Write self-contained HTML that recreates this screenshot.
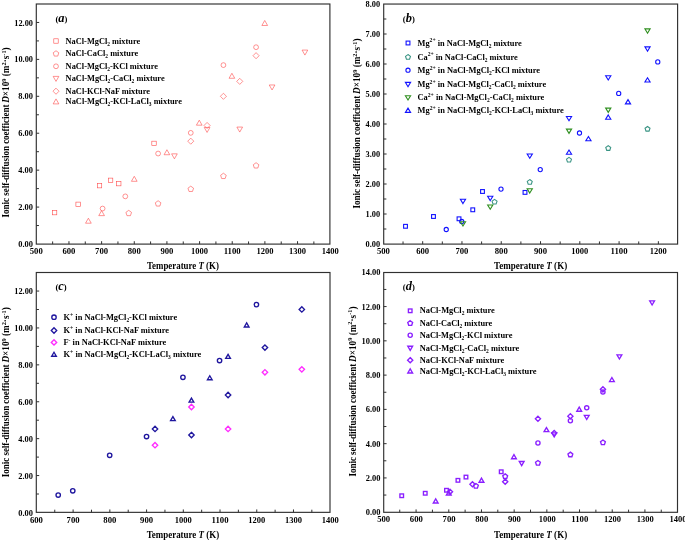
<!DOCTYPE html>
<html><head><meta charset="utf-8"><title>Ionic self-diffusion coefficients</title>
<style>
html,body{margin:0;padding:0;background:#fff;}
body{width:685px;height:540px;overflow:hidden;font-family:"Liberation Serif",serif;}
svg{display:block;will-change:transform;}
svg text{font-family:"Liberation Serif",serif;font-weight:bold;}
</style></head><body>
<svg width="685" height="540" viewBox="0 0 685 540">
<rect x="0" y="0" width="685" height="540" fill="#ffffff"/>
<rect x="36.3" y="4.0" width="293.60" height="240.10" fill="none" stroke="#303030" stroke-width="1.15"/>
<line x1="52.63" y1="244.1" x2="52.63" y2="241.45" stroke="#303030" stroke-width="1"/>
<line x1="68.96" y1="244.1" x2="68.96" y2="241.20" stroke="#303030" stroke-width="1"/>
<line x1="85.28" y1="244.1" x2="85.28" y2="241.45" stroke="#303030" stroke-width="1"/>
<line x1="101.61" y1="244.1" x2="101.61" y2="241.20" stroke="#303030" stroke-width="1"/>
<line x1="117.94" y1="244.1" x2="117.94" y2="241.45" stroke="#303030" stroke-width="1"/>
<line x1="134.27" y1="244.1" x2="134.27" y2="241.20" stroke="#303030" stroke-width="1"/>
<line x1="150.59" y1="244.1" x2="150.59" y2="241.45" stroke="#303030" stroke-width="1"/>
<line x1="166.92" y1="244.1" x2="166.92" y2="241.20" stroke="#303030" stroke-width="1"/>
<line x1="183.25" y1="244.1" x2="183.25" y2="241.45" stroke="#303030" stroke-width="1"/>
<line x1="199.58" y1="244.1" x2="199.58" y2="241.20" stroke="#303030" stroke-width="1"/>
<line x1="215.91" y1="244.1" x2="215.91" y2="241.45" stroke="#303030" stroke-width="1"/>
<line x1="232.23" y1="244.1" x2="232.23" y2="241.20" stroke="#303030" stroke-width="1"/>
<line x1="248.56" y1="244.1" x2="248.56" y2="241.45" stroke="#303030" stroke-width="1"/>
<line x1="264.89" y1="244.1" x2="264.89" y2="241.20" stroke="#303030" stroke-width="1"/>
<line x1="281.22" y1="244.1" x2="281.22" y2="241.45" stroke="#303030" stroke-width="1"/>
<line x1="297.54" y1="244.1" x2="297.54" y2="241.20" stroke="#303030" stroke-width="1"/>
<line x1="313.87" y1="244.1" x2="313.87" y2="241.45" stroke="#303030" stroke-width="1"/>
<line x1="36.3" y1="225.54" x2="38.95" y2="225.54" stroke="#303030" stroke-width="1"/>
<line x1="36.3" y1="207.08" x2="39.20" y2="207.08" stroke="#303030" stroke-width="1"/>
<line x1="36.3" y1="188.62" x2="38.95" y2="188.62" stroke="#303030" stroke-width="1"/>
<line x1="36.3" y1="170.15" x2="39.20" y2="170.15" stroke="#303030" stroke-width="1"/>
<line x1="36.3" y1="151.69" x2="38.95" y2="151.69" stroke="#303030" stroke-width="1"/>
<line x1="36.3" y1="133.23" x2="39.20" y2="133.23" stroke="#303030" stroke-width="1"/>
<line x1="36.3" y1="114.77" x2="38.95" y2="114.77" stroke="#303030" stroke-width="1"/>
<line x1="36.3" y1="96.31" x2="39.20" y2="96.31" stroke="#303030" stroke-width="1"/>
<line x1="36.3" y1="77.85" x2="38.95" y2="77.85" stroke="#303030" stroke-width="1"/>
<line x1="36.3" y1="59.38" x2="39.20" y2="59.38" stroke="#303030" stroke-width="1"/>
<line x1="36.3" y1="40.92" x2="38.95" y2="40.92" stroke="#303030" stroke-width="1"/>
<line x1="36.3" y1="22.46" x2="39.20" y2="22.46" stroke="#303030" stroke-width="1"/>
<rect x="53.80" y="38.80" width="4.40" height="4.40" fill="none" stroke="#ff4a4a" stroke-width="0.6"/>
<polygon points="56.00,50.74 58.81,52.78 57.73,56.08 54.27,56.08 53.19,52.78" fill="none" stroke="#ff4a4a" stroke-width="0.6"/>
<circle cx="56.00" cy="66.30" r="2.40" fill="none" stroke="#ff4a4a" stroke-width="0.6"/>
<polygon points="56.00,81.40 58.85,76.40 53.15,76.40" fill="none" stroke="#ff4a4a" stroke-width="0.6"/>
<polygon points="56.00,88.15 59.05,91.20 56.00,94.25 52.95,91.20" fill="none" stroke="#ff4a4a" stroke-width="0.6"/>
<polygon points="56.00,98.90 58.85,103.90 53.15,103.90" fill="none" stroke="#ff4a4a" stroke-width="0.6"/>
<rect x="52.39" y="210.42" width="4.40" height="4.40" fill="none" stroke="#ff4a4a" stroke-width="0.6"/>
<rect x="75.90" y="202.11" width="4.40" height="4.40" fill="none" stroke="#ff4a4a" stroke-width="0.6"/>
<rect x="97.32" y="183.46" width="4.40" height="4.40" fill="none" stroke="#ff4a4a" stroke-width="0.6"/>
<rect x="108.39" y="178.11" width="4.40" height="4.40" fill="none" stroke="#ff4a4a" stroke-width="0.6"/>
<rect x="116.56" y="181.43" width="4.40" height="4.40" fill="none" stroke="#ff4a4a" stroke-width="0.6"/>
<rect x="151.82" y="141.18" width="4.40" height="4.40" fill="none" stroke="#ff4a4a" stroke-width="0.6"/>
<polygon points="128.72,210.33 131.52,212.37 130.45,215.67 126.98,215.67 125.91,212.37" fill="none" stroke="#ff4a4a" stroke-width="0.6"/>
<polygon points="158.11,200.73 160.91,202.77 159.84,206.07 156.37,206.07 155.30,202.77" fill="none" stroke="#ff4a4a" stroke-width="0.6"/>
<polygon points="190.76,186.15 193.57,188.18 192.49,191.48 189.03,191.48 187.96,188.18" fill="none" stroke="#ff4a4a" stroke-width="0.6"/>
<polygon points="223.42,173.22 226.22,175.26 225.15,178.56 221.68,178.56 220.61,175.26" fill="none" stroke="#ff4a4a" stroke-width="0.6"/>
<polygon points="256.07,162.70 258.88,164.74 257.81,168.04 254.34,168.04 253.27,164.74" fill="none" stroke="#ff4a4a" stroke-width="0.6"/>
<circle cx="102.59" cy="208.55" r="2.40" fill="none" stroke="#ff4a4a" stroke-width="0.6"/>
<circle cx="125.29" cy="196.37" r="2.40" fill="none" stroke="#ff4a4a" stroke-width="0.6"/>
<circle cx="158.11" cy="153.54" r="2.40" fill="none" stroke="#ff4a4a" stroke-width="0.6"/>
<circle cx="190.76" cy="132.86" r="2.40" fill="none" stroke="#ff4a4a" stroke-width="0.6"/>
<circle cx="223.42" cy="65.11" r="2.40" fill="none" stroke="#ff4a4a" stroke-width="0.6"/>
<circle cx="256.07" cy="47.20" r="2.40" fill="none" stroke="#ff4a4a" stroke-width="0.6"/>
<polygon points="174.43,158.84 177.28,153.84 171.58,153.84" fill="none" stroke="#ff4a4a" stroke-width="0.6"/>
<polygon points="207.09,132.44 209.94,127.44 204.24,127.44" fill="none" stroke="#ff4a4a" stroke-width="0.6"/>
<polygon points="239.74,132.07 242.59,127.07 236.89,127.07" fill="none" stroke="#ff4a4a" stroke-width="0.6"/>
<polygon points="272.07,89.98 274.92,84.98 269.22,84.98" fill="none" stroke="#ff4a4a" stroke-width="0.6"/>
<polygon points="304.92,55.08 307.77,50.08 302.07,50.08" fill="none" stroke="#ff4a4a" stroke-width="0.6"/>
<polygon points="190.76,138.12 193.81,141.17 190.76,144.22 187.71,141.17" fill="none" stroke="#ff4a4a" stroke-width="0.6"/>
<polygon points="207.09,122.43 210.14,125.48 207.09,128.53 204.04,125.48" fill="none" stroke="#ff4a4a" stroke-width="0.6"/>
<polygon points="223.42,93.26 226.47,96.31 223.42,99.36 220.37,96.31" fill="none" stroke="#ff4a4a" stroke-width="0.6"/>
<polygon points="239.74,78.30 242.79,81.35 239.74,84.40 236.69,81.35" fill="none" stroke="#ff4a4a" stroke-width="0.6"/>
<polygon points="256.07,52.64 259.12,55.69 256.07,58.74 253.02,55.69" fill="none" stroke="#ff4a4a" stroke-width="0.6"/>
<polygon points="88.39,218.21 91.24,223.21 85.54,223.21" fill="none" stroke="#ff4a4a" stroke-width="0.6"/>
<polygon points="101.61,210.64 104.46,215.64 98.76,215.64" fill="none" stroke="#ff4a4a" stroke-width="0.6"/>
<polygon points="134.27,176.30 137.12,181.30 131.42,181.30" fill="none" stroke="#ff4a4a" stroke-width="0.6"/>
<polygon points="166.92,149.72 169.77,154.72 164.07,154.72" fill="none" stroke="#ff4a4a" stroke-width="0.6"/>
<polygon points="199.25,120.18 202.10,125.18 196.40,125.18" fill="none" stroke="#ff4a4a" stroke-width="0.6"/>
<polygon points="231.91,73.28 234.76,78.28 229.06,78.28" fill="none" stroke="#ff4a4a" stroke-width="0.6"/>
<polygon points="264.73,20.48 267.58,25.48 261.88,25.48" fill="none" stroke="#ff4a4a" stroke-width="0.6"/>
<rect x="383.7" y="4.05" width="293.90" height="240.05" fill="none" stroke="#303030" stroke-width="1.15"/>
<line x1="403.04" y1="244.1" x2="403.04" y2="241.45" stroke="#303030" stroke-width="1"/>
<line x1="422.68" y1="244.1" x2="422.68" y2="241.20" stroke="#303030" stroke-width="1"/>
<line x1="442.32" y1="244.1" x2="442.32" y2="241.45" stroke="#303030" stroke-width="1"/>
<line x1="461.96" y1="244.1" x2="461.96" y2="241.20" stroke="#303030" stroke-width="1"/>
<line x1="481.60" y1="244.1" x2="481.60" y2="241.45" stroke="#303030" stroke-width="1"/>
<line x1="501.24" y1="244.1" x2="501.24" y2="241.20" stroke="#303030" stroke-width="1"/>
<line x1="520.88" y1="244.1" x2="520.88" y2="241.45" stroke="#303030" stroke-width="1"/>
<line x1="540.52" y1="244.1" x2="540.52" y2="241.20" stroke="#303030" stroke-width="1"/>
<line x1="560.16" y1="244.1" x2="560.16" y2="241.45" stroke="#303030" stroke-width="1"/>
<line x1="579.80" y1="244.1" x2="579.80" y2="241.20" stroke="#303030" stroke-width="1"/>
<line x1="599.44" y1="244.1" x2="599.44" y2="241.45" stroke="#303030" stroke-width="1"/>
<line x1="619.08" y1="244.1" x2="619.08" y2="241.20" stroke="#303030" stroke-width="1"/>
<line x1="638.72" y1="244.1" x2="638.72" y2="241.45" stroke="#303030" stroke-width="1"/>
<line x1="658.36" y1="244.1" x2="658.36" y2="241.20" stroke="#303030" stroke-width="1"/>
<line x1="383.7" y1="229.00" x2="386.35" y2="229.00" stroke="#303030" stroke-width="1"/>
<line x1="383.7" y1="214.00" x2="386.60" y2="214.00" stroke="#303030" stroke-width="1"/>
<line x1="383.7" y1="199.00" x2="386.35" y2="199.00" stroke="#303030" stroke-width="1"/>
<line x1="383.7" y1="184.00" x2="386.60" y2="184.00" stroke="#303030" stroke-width="1"/>
<line x1="383.7" y1="169.00" x2="386.35" y2="169.00" stroke="#303030" stroke-width="1"/>
<line x1="383.7" y1="154.00" x2="386.60" y2="154.00" stroke="#303030" stroke-width="1"/>
<line x1="383.7" y1="139.00" x2="386.35" y2="139.00" stroke="#303030" stroke-width="1"/>
<line x1="383.7" y1="124.00" x2="386.60" y2="124.00" stroke="#303030" stroke-width="1"/>
<line x1="383.7" y1="109.00" x2="386.35" y2="109.00" stroke="#303030" stroke-width="1"/>
<line x1="383.7" y1="94.00" x2="386.60" y2="94.00" stroke="#303030" stroke-width="1"/>
<line x1="383.7" y1="79.00" x2="386.35" y2="79.00" stroke="#303030" stroke-width="1"/>
<line x1="383.7" y1="64.00" x2="386.60" y2="64.00" stroke="#303030" stroke-width="1"/>
<line x1="383.7" y1="49.00" x2="386.35" y2="49.00" stroke="#303030" stroke-width="1"/>
<line x1="383.7" y1="34.00" x2="386.60" y2="34.00" stroke="#303030" stroke-width="1"/>
<line x1="383.7" y1="19.00" x2="386.35" y2="19.00" stroke="#303030" stroke-width="1"/>
<rect x="406.10" y="41.10" width="3.80" height="3.80" fill="none" stroke="#1212ff" stroke-width="1.1"/>
<polygon points="408.00,54.56 410.47,56.36 409.53,59.26 406.47,59.26 405.53,56.36" fill="none" stroke="#3a9484" stroke-width="1.1"/>
<circle cx="408.00" cy="70.20" r="2.10" fill="none" stroke="#1212ff" stroke-width="1.1"/>
<polygon points="408.00,86.69 410.60,82.39 405.40,82.39" fill="none" stroke="#1212ff" stroke-width="1.1"/>
<polygon points="408.00,99.99 410.60,95.69 405.40,95.69" fill="none" stroke="#2f8f1f" stroke-width="1.1"/>
<polygon points="408.00,108.11 410.60,112.41 405.40,112.41" fill="none" stroke="#1212ff" stroke-width="1.1"/>
<rect x="403.61" y="224.40" width="3.80" height="3.80" fill="none" stroke="#1212ff" stroke-width="1.1"/>
<rect x="431.58" y="214.59" width="3.80" height="3.80" fill="none" stroke="#1212ff" stroke-width="1.1"/>
<rect x="457.11" y="216.90" width="3.80" height="3.80" fill="none" stroke="#1212ff" stroke-width="1.1"/>
<rect x="470.86" y="207.90" width="3.80" height="3.80" fill="none" stroke="#1212ff" stroke-width="1.1"/>
<rect x="480.60" y="189.60" width="3.80" height="3.80" fill="none" stroke="#1212ff" stroke-width="1.1"/>
<rect x="523.10" y="190.50" width="3.80" height="3.80" fill="none" stroke="#1212ff" stroke-width="1.1"/>
<polygon points="494.56,199.36 497.04,201.16 496.09,204.06 493.03,204.06 492.09,201.16" fill="none" stroke="#3a9484" stroke-width="1.1"/>
<polygon points="529.76,179.56 532.23,181.36 531.29,184.26 528.23,184.26 527.28,181.36" fill="none" stroke="#3a9484" stroke-width="1.1"/>
<polygon points="569.00,157.36 571.47,159.16 570.53,162.06 567.47,162.06 566.53,159.16" fill="none" stroke="#3a9484" stroke-width="1.1"/>
<polygon points="608.24,145.66 610.71,147.46 609.77,150.36 606.71,150.36 605.77,147.46" fill="none" stroke="#3a9484" stroke-width="1.1"/>
<polygon points="647.52,126.46 649.99,128.26 649.05,131.16 645.99,131.16 645.05,128.26" fill="none" stroke="#3a9484" stroke-width="1.1"/>
<circle cx="446.25" cy="229.51" r="2.10" fill="none" stroke="#1212ff" stroke-width="1.1"/>
<circle cx="461.76" cy="221.50" r="2.10" fill="none" stroke="#1212ff" stroke-width="1.1"/>
<circle cx="501.00" cy="189.10" r="2.10" fill="none" stroke="#1212ff" stroke-width="1.1"/>
<circle cx="540.25" cy="169.60" r="2.10" fill="none" stroke="#1212ff" stroke-width="1.1"/>
<circle cx="579.49" cy="133.00" r="2.10" fill="none" stroke="#1212ff" stroke-width="1.1"/>
<circle cx="618.69" cy="93.40" r="2.10" fill="none" stroke="#1212ff" stroke-width="1.1"/>
<circle cx="657.77" cy="61.90" r="2.10" fill="none" stroke="#1212ff" stroke-width="1.1"/>
<polygon points="462.98,203.59 465.58,199.29 460.38,199.29" fill="none" stroke="#1212ff" stroke-width="1.1"/>
<polygon points="490.24,200.59 492.84,196.29 487.64,196.29" fill="none" stroke="#1212ff" stroke-width="1.1"/>
<polygon points="529.76,158.29 532.36,153.99 527.16,153.99" fill="none" stroke="#1212ff" stroke-width="1.1"/>
<polygon points="569.00,120.79 571.60,116.49 566.40,116.49" fill="none" stroke="#1212ff" stroke-width="1.1"/>
<polygon points="608.24,79.99 610.84,75.69 605.64,75.69" fill="none" stroke="#1212ff" stroke-width="1.1"/>
<polygon points="647.52,51.19 650.12,46.89 644.92,46.89" fill="none" stroke="#1212ff" stroke-width="1.1"/>
<polygon points="462.98,226.00 465.58,221.70 460.38,221.70" fill="none" stroke="#2f8f1f" stroke-width="1.1"/>
<polygon points="490.24,209.29 492.84,204.99 487.64,204.99" fill="none" stroke="#2f8f1f" stroke-width="1.1"/>
<polygon points="529.76,193.09 532.36,188.79 527.16,188.79" fill="none" stroke="#2f8f1f" stroke-width="1.1"/>
<polygon points="569.00,133.39 571.60,129.09 566.40,129.09" fill="none" stroke="#2f8f1f" stroke-width="1.1"/>
<polygon points="608.24,112.39 610.84,108.09 605.64,108.09" fill="none" stroke="#2f8f1f" stroke-width="1.1"/>
<polygon points="647.52,33.19 650.12,28.89 644.92,28.89" fill="none" stroke="#2f8f1f" stroke-width="1.1"/>
<polygon points="569.00,150.01 571.60,154.31 566.40,154.31" fill="none" stroke="#1212ff" stroke-width="1.1"/>
<polygon points="588.44,136.51 591.04,140.81 585.84,140.81" fill="none" stroke="#1212ff" stroke-width="1.1"/>
<polygon points="608.24,114.91 610.84,119.21 605.64,119.21" fill="none" stroke="#1212ff" stroke-width="1.1"/>
<polygon points="628.00,99.61 630.60,103.91 625.40,103.91" fill="none" stroke="#1212ff" stroke-width="1.1"/>
<polygon points="647.52,77.71 650.12,82.01 644.92,82.01" fill="none" stroke="#1212ff" stroke-width="1.1"/>
<rect x="36.3" y="272.5" width="293.70" height="239.85" fill="none" stroke="#303030" stroke-width="1.15"/>
<line x1="54.76" y1="512.35" x2="54.76" y2="509.70" stroke="#303030" stroke-width="1"/>
<line x1="73.12" y1="512.35" x2="73.12" y2="509.45" stroke="#303030" stroke-width="1"/>
<line x1="91.49" y1="512.35" x2="91.49" y2="509.70" stroke="#303030" stroke-width="1"/>
<line x1="109.85" y1="512.35" x2="109.85" y2="509.45" stroke="#303030" stroke-width="1"/>
<line x1="128.21" y1="512.35" x2="128.21" y2="509.70" stroke="#303030" stroke-width="1"/>
<line x1="146.58" y1="512.35" x2="146.58" y2="509.45" stroke="#303030" stroke-width="1"/>
<line x1="164.94" y1="512.35" x2="164.94" y2="509.70" stroke="#303030" stroke-width="1"/>
<line x1="183.30" y1="512.35" x2="183.30" y2="509.45" stroke="#303030" stroke-width="1"/>
<line x1="201.66" y1="512.35" x2="201.66" y2="509.70" stroke="#303030" stroke-width="1"/>
<line x1="220.03" y1="512.35" x2="220.03" y2="509.45" stroke="#303030" stroke-width="1"/>
<line x1="238.39" y1="512.35" x2="238.39" y2="509.70" stroke="#303030" stroke-width="1"/>
<line x1="256.75" y1="512.35" x2="256.75" y2="509.45" stroke="#303030" stroke-width="1"/>
<line x1="275.11" y1="512.35" x2="275.11" y2="509.70" stroke="#303030" stroke-width="1"/>
<line x1="293.47" y1="512.35" x2="293.47" y2="509.45" stroke="#303030" stroke-width="1"/>
<line x1="311.84" y1="512.35" x2="311.84" y2="509.70" stroke="#303030" stroke-width="1"/>
<line x1="36.3" y1="494.00" x2="38.95" y2="494.00" stroke="#303030" stroke-width="1"/>
<line x1="36.3" y1="475.55" x2="39.20" y2="475.55" stroke="#303030" stroke-width="1"/>
<line x1="36.3" y1="457.10" x2="38.95" y2="457.10" stroke="#303030" stroke-width="1"/>
<line x1="36.3" y1="438.65" x2="39.20" y2="438.65" stroke="#303030" stroke-width="1"/>
<line x1="36.3" y1="420.20" x2="38.95" y2="420.20" stroke="#303030" stroke-width="1"/>
<line x1="36.3" y1="401.75" x2="39.20" y2="401.75" stroke="#303030" stroke-width="1"/>
<line x1="36.3" y1="383.30" x2="38.95" y2="383.30" stroke="#303030" stroke-width="1"/>
<line x1="36.3" y1="364.85" x2="39.20" y2="364.85" stroke="#303030" stroke-width="1"/>
<line x1="36.3" y1="346.40" x2="38.95" y2="346.40" stroke="#303030" stroke-width="1"/>
<line x1="36.3" y1="327.95" x2="39.20" y2="327.95" stroke="#303030" stroke-width="1"/>
<line x1="36.3" y1="309.50" x2="38.95" y2="309.50" stroke="#303030" stroke-width="1"/>
<line x1="36.3" y1="291.05" x2="39.20" y2="291.05" stroke="#303030" stroke-width="1"/>
<circle cx="54.00" cy="317.20" r="2.20" fill="none" stroke="#1f169e" stroke-width="1.35"/>
<polygon points="54.00,327.80 56.70,330.50 54.00,333.20 51.30,330.50" fill="none" stroke="#1f169e" stroke-width="1.35"/>
<polygon points="54.00,339.70 56.70,342.40 54.00,345.10 51.30,342.40" fill="none" stroke="#ff2cff" stroke-width="1.35"/>
<polygon points="54.00,352.28 56.35,356.28 51.65,356.28" fill="none" stroke="#1f169e" stroke-width="1.35"/>
<circle cx="58.21" cy="495.01" r="2.20" fill="none" stroke="#1f169e" stroke-width="1.35"/>
<circle cx="72.76" cy="490.77" r="2.20" fill="none" stroke="#1f169e" stroke-width="1.35"/>
<circle cx="109.67" cy="455.26" r="2.20" fill="none" stroke="#1f169e" stroke-width="1.35"/>
<circle cx="146.54" cy="436.53" r="2.20" fill="none" stroke="#1f169e" stroke-width="1.35"/>
<circle cx="182.93" cy="377.30" r="2.20" fill="none" stroke="#1f169e" stroke-width="1.35"/>
<circle cx="219.55" cy="360.51" r="2.20" fill="none" stroke="#1f169e" stroke-width="1.35"/>
<circle cx="256.42" cy="304.61" r="2.20" fill="none" stroke="#1f169e" stroke-width="1.35"/>
<polygon points="155.02,426.26 157.72,428.96 155.02,431.66 152.32,428.96" fill="none" stroke="#1f169e" stroke-width="1.35"/>
<polygon points="191.45,432.35 194.15,435.05 191.45,437.75 188.75,435.05" fill="none" stroke="#1f169e" stroke-width="1.35"/>
<polygon points="228.07,392.32 230.77,395.02 228.07,397.72 225.37,395.02" fill="none" stroke="#1f169e" stroke-width="1.35"/>
<polygon points="264.94,344.90 267.64,347.60 264.94,350.30 262.24,347.60" fill="none" stroke="#1f169e" stroke-width="1.35"/>
<polygon points="301.81,306.71 304.51,309.41 301.81,312.11 299.11,309.41" fill="none" stroke="#1f169e" stroke-width="1.35"/>
<polygon points="155.02,442.50 157.72,445.20 155.02,447.90 152.32,445.20" fill="none" stroke="#ff2cff" stroke-width="1.35"/>
<polygon points="191.45,404.31 194.15,407.01 191.45,409.71 188.75,407.01" fill="none" stroke="#ff2cff" stroke-width="1.35"/>
<polygon points="228.07,426.26 230.77,428.96 228.07,431.66 225.37,428.96" fill="none" stroke="#ff2cff" stroke-width="1.35"/>
<polygon points="264.94,369.62 267.64,372.32 264.94,375.02 262.24,372.32" fill="none" stroke="#ff2cff" stroke-width="1.35"/>
<polygon points="301.81,366.67 304.51,369.37 301.81,372.07 299.11,369.37" fill="none" stroke="#ff2cff" stroke-width="1.35"/>
<polygon points="172.91,416.68 175.26,420.68 170.56,420.68" fill="none" stroke="#1f169e" stroke-width="1.35"/>
<polygon points="191.45,398.05 193.80,402.05 189.10,402.05" fill="none" stroke="#1f169e" stroke-width="1.35"/>
<polygon points="209.78,375.72 212.13,379.72 207.43,379.72" fill="none" stroke="#1f169e" stroke-width="1.35"/>
<polygon points="228.07,354.32 230.42,358.32 225.72,358.32" fill="none" stroke="#1f169e" stroke-width="1.35"/>
<polygon points="246.65,322.95 249.00,326.95 244.30,326.95" fill="none" stroke="#1f169e" stroke-width="1.35"/>
<rect x="383.7" y="272.5" width="293.80" height="239.80" fill="none" stroke="#303030" stroke-width="1.15"/>
<line x1="399.74" y1="512.3" x2="399.74" y2="509.65" stroke="#303030" stroke-width="1"/>
<line x1="416.09" y1="512.3" x2="416.09" y2="509.40" stroke="#303030" stroke-width="1"/>
<line x1="432.43" y1="512.3" x2="432.43" y2="509.65" stroke="#303030" stroke-width="1"/>
<line x1="448.78" y1="512.3" x2="448.78" y2="509.40" stroke="#303030" stroke-width="1"/>
<line x1="465.12" y1="512.3" x2="465.12" y2="509.65" stroke="#303030" stroke-width="1"/>
<line x1="481.47" y1="512.3" x2="481.47" y2="509.40" stroke="#303030" stroke-width="1"/>
<line x1="497.81" y1="512.3" x2="497.81" y2="509.65" stroke="#303030" stroke-width="1"/>
<line x1="514.16" y1="512.3" x2="514.16" y2="509.40" stroke="#303030" stroke-width="1"/>
<line x1="530.50" y1="512.3" x2="530.50" y2="509.65" stroke="#303030" stroke-width="1"/>
<line x1="546.84" y1="512.3" x2="546.84" y2="509.40" stroke="#303030" stroke-width="1"/>
<line x1="563.19" y1="512.3" x2="563.19" y2="509.65" stroke="#303030" stroke-width="1"/>
<line x1="579.53" y1="512.3" x2="579.53" y2="509.40" stroke="#303030" stroke-width="1"/>
<line x1="595.88" y1="512.3" x2="595.88" y2="509.65" stroke="#303030" stroke-width="1"/>
<line x1="612.22" y1="512.3" x2="612.22" y2="509.40" stroke="#303030" stroke-width="1"/>
<line x1="628.57" y1="512.3" x2="628.57" y2="509.65" stroke="#303030" stroke-width="1"/>
<line x1="644.91" y1="512.3" x2="644.91" y2="509.40" stroke="#303030" stroke-width="1"/>
<line x1="661.26" y1="512.3" x2="661.26" y2="509.65" stroke="#303030" stroke-width="1"/>
<line x1="383.7" y1="495.06" x2="386.35" y2="495.06" stroke="#303030" stroke-width="1"/>
<line x1="383.7" y1="477.93" x2="386.60" y2="477.93" stroke="#303030" stroke-width="1"/>
<line x1="383.7" y1="460.79" x2="386.35" y2="460.79" stroke="#303030" stroke-width="1"/>
<line x1="383.7" y1="443.66" x2="386.60" y2="443.66" stroke="#303030" stroke-width="1"/>
<line x1="383.7" y1="426.52" x2="386.35" y2="426.52" stroke="#303030" stroke-width="1"/>
<line x1="383.7" y1="409.39" x2="386.60" y2="409.39" stroke="#303030" stroke-width="1"/>
<line x1="383.7" y1="392.25" x2="386.35" y2="392.25" stroke="#303030" stroke-width="1"/>
<line x1="383.7" y1="375.11" x2="386.60" y2="375.11" stroke="#303030" stroke-width="1"/>
<line x1="383.7" y1="357.98" x2="386.35" y2="357.98" stroke="#303030" stroke-width="1"/>
<line x1="383.7" y1="340.84" x2="386.60" y2="340.84" stroke="#303030" stroke-width="1"/>
<line x1="383.7" y1="323.71" x2="386.35" y2="323.71" stroke="#303030" stroke-width="1"/>
<line x1="383.7" y1="306.57" x2="386.60" y2="306.57" stroke="#303030" stroke-width="1"/>
<line x1="383.7" y1="289.44" x2="386.35" y2="289.44" stroke="#303030" stroke-width="1"/>
<rect x="408.40" y="309.00" width="3.60" height="3.60" fill="none" stroke="#8a1fff" stroke-width="1.35"/>
<polygon points="410.20,320.70 412.63,322.47 411.70,325.32 408.70,325.32 407.77,322.47" fill="none" stroke="#8a1fff" stroke-width="1.35"/>
<circle cx="410.20" cy="335.20" r="2.10" fill="none" stroke="#8a1fff" stroke-width="1.35"/>
<polygon points="410.20,350.38 412.60,346.28 407.80,346.28" fill="none" stroke="#8a1fff" stroke-width="1.35"/>
<polygon points="410.20,357.60 412.80,360.20 410.20,362.80 407.60,360.20" fill="none" stroke="#8a1fff" stroke-width="1.35"/>
<polygon points="410.20,368.92 412.60,373.02 407.80,373.02" fill="none" stroke="#8a1fff" stroke-width="1.35"/>
<rect x="399.91" y="493.95" width="3.60" height="3.60" fill="none" stroke="#8a1fff" stroke-width="1.35"/>
<rect x="423.44" y="491.47" width="3.60" height="3.60" fill="none" stroke="#8a1fff" stroke-width="1.35"/>
<rect x="444.69" y="488.47" width="3.60" height="3.60" fill="none" stroke="#8a1fff" stroke-width="1.35"/>
<rect x="456.13" y="478.53" width="3.60" height="3.60" fill="none" stroke="#8a1fff" stroke-width="1.35"/>
<rect x="464.17" y="475.27" width="3.60" height="3.60" fill="none" stroke="#8a1fff" stroke-width="1.35"/>
<rect x="499.41" y="469.96" width="3.60" height="3.60" fill="none" stroke="#8a1fff" stroke-width="1.35"/>
<polygon points="475.91,483.52 478.33,485.28 477.41,488.13 474.41,488.13 473.48,485.28" fill="none" stroke="#8a1fff" stroke-width="1.35"/>
<polygon points="505.20,473.92 507.62,475.68 506.70,478.53 503.70,478.53 502.77,475.68" fill="none" stroke="#8a1fff" stroke-width="1.35"/>
<polygon points="537.95,460.47 540.38,462.23 539.45,465.08 536.45,465.08 535.53,462.23" fill="none" stroke="#8a1fff" stroke-width="1.35"/>
<polygon points="570.38,452.16 572.81,453.92 571.88,456.77 568.88,456.77 567.96,453.92" fill="none" stroke="#8a1fff" stroke-width="1.35"/>
<polygon points="602.94,439.99 605.36,441.75 604.44,444.60 601.44,444.60 600.51,441.75" fill="none" stroke="#8a1fff" stroke-width="1.35"/>
<circle cx="537.95" cy="442.97" r="2.10" fill="none" stroke="#8a1fff" stroke-width="1.35"/>
<circle cx="570.38" cy="420.70" r="2.10" fill="none" stroke="#8a1fff" stroke-width="1.35"/>
<circle cx="586.72" cy="407.84" r="2.10" fill="none" stroke="#8a1fff" stroke-width="1.35"/>
<circle cx="602.94" cy="392.08" r="2.10" fill="none" stroke="#8a1fff" stroke-width="1.35"/>
<polygon points="521.67,465.57 524.07,461.47 519.27,461.47" fill="none" stroke="#8a1fff" stroke-width="1.35"/>
<polygon points="554.20,436.95 556.60,432.85 551.80,432.85" fill="none" stroke="#8a1fff" stroke-width="1.35"/>
<polygon points="586.72,419.47 589.12,415.37 584.32,415.37" fill="none" stroke="#8a1fff" stroke-width="1.35"/>
<polygon points="619.41,358.99 621.81,354.89 617.01,354.89" fill="none" stroke="#8a1fff" stroke-width="1.35"/>
<polygon points="652.10,305.01 654.50,300.91 649.70,300.91" fill="none" stroke="#8a1fff" stroke-width="1.35"/>
<polygon points="449.99,489.21 452.59,491.81 449.99,494.41 447.39,491.81" fill="none" stroke="#8a1fff" stroke-width="1.35"/>
<polygon points="472.48,481.67 475.08,484.27 472.48,486.87 469.88,484.27" fill="none" stroke="#8a1fff" stroke-width="1.35"/>
<polygon points="505.20,479.10 507.80,481.70 505.20,484.30 502.60,481.70" fill="none" stroke="#8a1fff" stroke-width="1.35"/>
<polygon points="537.95,416.21 540.55,418.81 537.95,421.41 535.35,418.81" fill="none" stroke="#8a1fff" stroke-width="1.35"/>
<polygon points="554.20,430.43 556.80,433.03 554.20,435.63 551.60,433.03" fill="none" stroke="#8a1fff" stroke-width="1.35"/>
<polygon points="570.38,413.64 572.98,416.24 570.38,418.84 567.78,416.24" fill="none" stroke="#8a1fff" stroke-width="1.35"/>
<polygon points="602.94,386.74 605.54,389.34 602.94,391.94 600.34,389.34" fill="none" stroke="#8a1fff" stroke-width="1.35"/>
<polygon points="435.70,498.86 438.10,502.96 433.30,502.96" fill="none" stroke="#8a1fff" stroke-width="1.35"/>
<polygon points="448.78,490.89 451.18,494.99 446.38,494.99" fill="none" stroke="#8a1fff" stroke-width="1.35"/>
<polygon points="481.47,478.12 483.87,482.22 479.07,482.22" fill="none" stroke="#8a1fff" stroke-width="1.35"/>
<polygon points="513.96,454.65 516.36,458.75 511.56,458.75" fill="none" stroke="#8a1fff" stroke-width="1.35"/>
<polygon points="546.45,427.57 548.85,431.67 544.05,431.67" fill="none" stroke="#8a1fff" stroke-width="1.35"/>
<polygon points="579.21,407.18 581.61,411.28 576.81,411.28" fill="none" stroke="#8a1fff" stroke-width="1.35"/>
<polygon points="611.90,377.53 614.30,381.63 609.50,381.63" fill="none" stroke="#8a1fff" stroke-width="1.35"/>
<text transform="translate(29.77,254.40) scale(0.9884,1)" font-size="8.8" fill="#000">500</text>
<text transform="translate(62.43,254.40) scale(0.9884,1)" font-size="8.8" fill="#000">600</text>
<text transform="translate(95.09,254.40) scale(0.9884,1)" font-size="8.8" fill="#000">700</text>
<text transform="translate(127.74,254.40) scale(0.9884,1)" font-size="8.8" fill="#000">800</text>
<text transform="translate(160.40,254.40) scale(0.9884,1)" font-size="8.8" fill="#000">900</text>
<text transform="translate(191.08,254.40) scale(0.9663,1)" font-size="8.8" fill="#000">1000</text>
<text transform="translate(223.73,254.40) scale(0.9936,1)" font-size="8.8" fill="#000">1100</text>
<text transform="translate(256.39,254.40) scale(0.9663,1)" font-size="8.8" fill="#000">1200</text>
<text transform="translate(289.04,254.40) scale(0.9663,1)" font-size="8.8" fill="#000">1300</text>
<text transform="translate(321.70,254.40) scale(0.9663,1)" font-size="8.8" fill="#000">1400</text>
<text transform="translate(18.30,247.10) scale(0.9542,1)" font-size="8.8" fill="#000">0.00</text>
<text transform="translate(18.30,210.18) scale(0.9542,1)" font-size="8.8" fill="#000">2.00</text>
<text transform="translate(18.30,173.25) scale(0.9542,1)" font-size="8.8" fill="#000">4.00</text>
<text transform="translate(18.30,136.33) scale(0.9542,1)" font-size="8.8" fill="#000">6.00</text>
<text transform="translate(18.30,99.41) scale(0.9542,1)" font-size="8.8" fill="#000">8.00</text>
<text transform="translate(14.30,62.48) scale(0.9446,1)" font-size="8.8" fill="#000">10.00</text>
<text transform="translate(14.30,25.56) scale(0.9446,1)" font-size="8.8" fill="#000">12.00</text>
<text transform="translate(147.00,268.90) scale(0.9548,1)" font-size="9.3" fill="#000">Temperature <tspan font-style="italic">T</tspan> (K)</text>
<text transform="translate(9.00,217.40) rotate(-90) scale(0.9340,1)" font-size="9.6" fill="#000">Ionic self-diffusion coefficient</text>
<text transform="translate(9.00,102.80) rotate(-90) scale(0.9580,1)" font-size="9.6" fill="#000"><tspan font-style="italic">D</tspan>×10<tspan font-size="6.6" dy="-3.5">9</tspan><tspan dy="3.5"> (m<tspan font-size="6.6" dy="-3.5">2</tspan><tspan dy="3.5">·s<tspan font-size="6.6" dy="-3.5">-1</tspan><tspan dy="3.5">)</tspan></tspan></tspan></text>
<text transform="translate(55.40,21.70) scale(1.0000,1)" font-size="8.6" fill="#000">(<tspan font-style="italic" font-size="12.4">a</tspan>)</text>
<text transform="translate(65.60,43.60) scale(0.9382,1)" font-size="8.9" fill="#000">NaCl-MgCl<tspan font-size="5.8" dy="2.0">2</tspan><tspan dy="-2.0"> mixture</tspan></text>
<text transform="translate(65.60,56.00) scale(0.9362,1)" font-size="8.9" fill="#000">NaCl-CaCl<tspan font-size="5.8" dy="2.0">2</tspan><tspan dy="-2.0"> mixture</tspan></text>
<text transform="translate(65.60,68.90) scale(0.9395,1)" font-size="8.9" fill="#000">NaCl-MgCl<tspan font-size="5.8" dy="2.0">2</tspan><tspan dy="-2.0">-KCl mixture</tspan></text>
<text transform="translate(65.60,81.10) scale(0.9410,1)" font-size="8.9" fill="#000">NaCl-MgCl<tspan font-size="5.8" dy="2.0">2</tspan><tspan dy="-2.0">-CaCl<tspan font-size="5.8" dy="2.0">2</tspan><tspan dy="-2.0"> mixture</tspan></tspan></text>
<text transform="translate(65.60,93.80) scale(0.9409,1)" font-size="8.9" fill="#000">NaCl-KCl-NaF mixture</text>
<text transform="translate(65.60,104.40) scale(0.9413,1)" font-size="8.9" fill="#000">NaCl-MgCl<tspan font-size="5.8" dy="2.0">2</tspan><tspan dy="-2.0">-KCl-LaCl<tspan font-size="5.8" dy="2.0">3</tspan><tspan dy="-2.0"> mixture</tspan></tspan></text>
<text transform="translate(376.88,254.40) scale(0.9884,1)" font-size="8.8" fill="#000">500</text>
<text transform="translate(416.15,254.40) scale(0.9884,1)" font-size="8.8" fill="#000">600</text>
<text transform="translate(455.44,254.40) scale(0.9884,1)" font-size="8.8" fill="#000">700</text>
<text transform="translate(494.72,254.40) scale(0.9884,1)" font-size="8.8" fill="#000">800</text>
<text transform="translate(534.00,254.40) scale(0.9884,1)" font-size="8.8" fill="#000">900</text>
<text transform="translate(571.30,254.40) scale(0.9663,1)" font-size="8.8" fill="#000">1000</text>
<text transform="translate(610.58,254.40) scale(0.9936,1)" font-size="8.8" fill="#000">1100</text>
<text transform="translate(649.86,254.40) scale(0.9663,1)" font-size="8.8" fill="#000">1200</text>
<text transform="translate(365.60,247.10) scale(0.9477,1)" font-size="8.8" fill="#000">0.00</text>
<text transform="translate(365.60,217.10) scale(0.9477,1)" font-size="8.8" fill="#000">1.00</text>
<text transform="translate(365.60,187.10) scale(0.9477,1)" font-size="8.8" fill="#000">2.00</text>
<text transform="translate(365.60,157.10) scale(0.9477,1)" font-size="8.8" fill="#000">3.00</text>
<text transform="translate(365.60,127.10) scale(0.9477,1)" font-size="8.8" fill="#000">4.00</text>
<text transform="translate(365.60,97.10) scale(0.9477,1)" font-size="8.8" fill="#000">5.00</text>
<text transform="translate(365.60,67.10) scale(0.9477,1)" font-size="8.8" fill="#000">6.00</text>
<text transform="translate(365.60,37.10) scale(0.9477,1)" font-size="8.8" fill="#000">7.00</text>
<text transform="translate(365.60,7.10) scale(0.9477,1)" font-size="8.8" fill="#000">8.00</text>
<text transform="translate(494.00,268.90) scale(0.9707,1)" font-size="9.3" fill="#000">Temperature <tspan font-style="italic">T</tspan> (K)</text>
<text transform="translate(360.10,208.50) rotate(-90) scale(0.9340,1)" font-size="9.6" fill="#000">Ionic self-diffusion coefficient</text>
<text transform="translate(360.10,93.90) rotate(-90) scale(0.9580,1)" font-size="9.6" fill="#000"><tspan font-style="italic">D</tspan>×10<tspan font-size="6.6" dy="-3.5">9</tspan><tspan dy="3.5"> (m<tspan font-size="6.6" dy="-3.5">2</tspan><tspan dy="3.5">·s<tspan font-size="6.6" dy="-3.5">-1</tspan><tspan dy="3.5">)</tspan></tspan></tspan></text>
<text transform="translate(402.80,21.60) scale(1.0000,1)" font-size="8.6" fill="#000">(<tspan font-style="italic" font-size="12.4">b</tspan>)</text>
<text transform="translate(417.50,45.60) scale(0.9412,1)" font-size="8.9" fill="#000">Mg<tspan font-size="6.0" dy="-3.3">2+</tspan><tspan dy="3.3"> in NaCl-MgCl<tspan font-size="5.8" dy="2.0">2</tspan><tspan dy="-2.0"> mixture</tspan></tspan></text>
<text transform="translate(417.50,59.50) scale(0.9384,1)" font-size="8.9" fill="#000">Ca<tspan font-size="6.0" dy="-3.3">2+</tspan><tspan dy="3.3"> in NaCl-CaCl<tspan font-size="5.8" dy="2.0">2</tspan><tspan dy="-2.0"> mixture</tspan></tspan></text>
<text transform="translate(417.50,72.80) scale(0.9479,1)" font-size="8.9" fill="#000">Mg<tspan font-size="6.0" dy="-3.3">2+</tspan><tspan dy="3.3"> in NaCl-MgCl<tspan font-size="5.8" dy="2.0">2</tspan><tspan dy="-2.0">-KCl mixture</tspan></tspan></text>
<text transform="translate(417.50,86.80) scale(0.9442,1)" font-size="8.9" fill="#000">Mg<tspan font-size="6.0" dy="-3.3">2+</tspan><tspan dy="3.3"> in NaCl-MgCl<tspan font-size="5.8" dy="2.0">2</tspan><tspan dy="-2.0">-CaCl<tspan font-size="5.8" dy="2.0">2</tspan><tspan dy="-2.0"> mixture</tspan></tspan></tspan></text>
<text transform="translate(417.50,100.10) scale(0.9432,1)" font-size="8.9" fill="#000">Ca<tspan font-size="6.0" dy="-3.3">2+</tspan><tspan dy="3.3"> in NaCl-MgCl<tspan font-size="5.8" dy="2.0">2</tspan><tspan dy="-2.0">-CaCl<tspan font-size="5.8" dy="2.0">2</tspan><tspan dy="-2.0"> mixture</tspan></tspan></tspan></text>
<text transform="translate(417.50,113.20) scale(0.9460,1)" font-size="8.9" fill="#000">Mg<tspan font-size="6.0" dy="-3.3">2+</tspan><tspan dy="3.3"> in NaCl-MgCl<tspan font-size="5.8" dy="2.0">2</tspan><tspan dy="-2.0">-KCl-LaCl<tspan font-size="5.8" dy="2.0">3</tspan><tspan dy="-2.0"> mixture</tspan></tspan></tspan></text>
<text transform="translate(29.88,522.60) scale(0.9884,1)" font-size="8.8" fill="#000">600</text>
<text transform="translate(66.60,522.60) scale(0.9884,1)" font-size="8.8" fill="#000">700</text>
<text transform="translate(103.32,522.60) scale(0.9884,1)" font-size="8.8" fill="#000">800</text>
<text transform="translate(140.05,522.60) scale(0.9884,1)" font-size="8.8" fill="#000">900</text>
<text transform="translate(174.80,522.60) scale(0.9663,1)" font-size="8.8" fill="#000">1000</text>
<text transform="translate(211.53,522.60) scale(0.9936,1)" font-size="8.8" fill="#000">1100</text>
<text transform="translate(248.25,522.60) scale(0.9663,1)" font-size="8.8" fill="#000">1200</text>
<text transform="translate(284.97,522.60) scale(0.9663,1)" font-size="8.8" fill="#000">1300</text>
<text transform="translate(321.70,522.60) scale(0.9663,1)" font-size="8.8" fill="#000">1400</text>
<text transform="translate(18.30,515.55) scale(0.9542,1)" font-size="8.8" fill="#000">0.00</text>
<text transform="translate(18.30,478.65) scale(0.9542,1)" font-size="8.8" fill="#000">2.00</text>
<text transform="translate(18.30,441.75) scale(0.9542,1)" font-size="8.8" fill="#000">4.00</text>
<text transform="translate(18.30,404.85) scale(0.9542,1)" font-size="8.8" fill="#000">6.00</text>
<text transform="translate(18.30,367.95) scale(0.9542,1)" font-size="8.8" fill="#000">8.00</text>
<text transform="translate(14.30,331.05) scale(0.9446,1)" font-size="8.8" fill="#000">10.00</text>
<text transform="translate(14.30,294.15) scale(0.9446,1)" font-size="8.8" fill="#000">12.00</text>
<text transform="translate(146.70,537.50) scale(0.9628,1)" font-size="9.3" fill="#000">Temperature <tspan font-style="italic">T</tspan> (K)</text>
<text transform="translate(9.00,477.20) rotate(-90) scale(0.9340,1)" font-size="9.6" fill="#000">Ionic self-diffusion coefficient</text>
<text transform="translate(9.00,362.60) rotate(-90) scale(0.9580,1)" font-size="9.6" fill="#000"><tspan font-style="italic">D</tspan>×10<tspan font-size="6.6" dy="-3.5">9</tspan><tspan dy="3.5"> (m<tspan font-size="6.6" dy="-3.5">2</tspan><tspan dy="3.5">·s<tspan font-size="6.6" dy="-3.5">-1</tspan><tspan dy="3.5">)</tspan></tspan></tspan></text>
<text transform="translate(55.40,289.60) scale(1.0000,1)" font-size="8.6" fill="#000">(<tspan font-style="italic" font-size="12.4">c</tspan>)</text>
<text transform="translate(63.50,319.80) scale(0.9434,1)" font-size="8.9" fill="#000">K<tspan font-size="6.0" dy="-3.3">+</tspan><tspan dy="3.3"> in NaCl-MgCl<tspan font-size="5.8" dy="2.0">2</tspan><tspan dy="-2.0">-KCl mixture</tspan></tspan></text>
<text transform="translate(63.50,333.10) scale(0.9450,1)" font-size="8.9" fill="#000">K<tspan font-size="6.0" dy="-3.3">+</tspan><tspan dy="3.3"> in NaCl-KCl-NaF mixture</tspan></text>
<text transform="translate(63.50,345.00) scale(0.9427,1)" font-size="8.9" fill="#000">F<tspan font-size="6.0" dy="-3.3">-</tspan><tspan dy="3.3"> in NaCl-KCl-NaF mixture</tspan></text>
<text transform="translate(63.50,357.20) scale(0.9456,1)" font-size="8.9" fill="#000">K<tspan font-size="6.0" dy="-3.3">+</tspan><tspan dy="3.3"> in NaCl-MgCl<tspan font-size="5.8" dy="2.0">2</tspan><tspan dy="-2.0">-KCl-LaCl<tspan font-size="5.8" dy="2.0">3</tspan><tspan dy="-2.0"> mixture</tspan></tspan></tspan></text>
<text transform="translate(377.18,522.10) scale(0.9884,1)" font-size="8.8" fill="#000">500</text>
<text transform="translate(409.86,522.10) scale(0.9884,1)" font-size="8.8" fill="#000">600</text>
<text transform="translate(442.55,522.10) scale(0.9884,1)" font-size="8.8" fill="#000">700</text>
<text transform="translate(475.24,522.10) scale(0.9884,1)" font-size="8.8" fill="#000">800</text>
<text transform="translate(507.93,522.10) scale(0.9884,1)" font-size="8.8" fill="#000">900</text>
<text transform="translate(538.64,522.10) scale(0.9663,1)" font-size="8.8" fill="#000">1000</text>
<text transform="translate(571.33,522.10) scale(0.9936,1)" font-size="8.8" fill="#000">1100</text>
<text transform="translate(604.02,522.10) scale(0.9663,1)" font-size="8.8" fill="#000">1200</text>
<text transform="translate(636.71,522.10) scale(0.9663,1)" font-size="8.8" fill="#000">1300</text>
<text transform="translate(669.40,522.10) scale(0.9663,1)" font-size="8.8" fill="#000">1400</text>
<text transform="translate(365.70,515.30) scale(0.9606,1)" font-size="8.8" fill="#000">0.00</text>
<text transform="translate(365.70,481.03) scale(0.9606,1)" font-size="8.8" fill="#000">2.00</text>
<text transform="translate(365.70,446.76) scale(0.9606,1)" font-size="8.8" fill="#000">4.00</text>
<text transform="translate(365.70,412.49) scale(0.9606,1)" font-size="8.8" fill="#000">6.00</text>
<text transform="translate(365.70,378.21) scale(0.9606,1)" font-size="8.8" fill="#000">8.00</text>
<text transform="translate(361.50,343.94) scale(0.9597,1)" font-size="8.8" fill="#000">10.00</text>
<text transform="translate(361.50,309.67) scale(0.9597,1)" font-size="8.8" fill="#000">12.00</text>
<text transform="translate(361.50,275.40) scale(0.9597,1)" font-size="8.8" fill="#000">14.00</text>
<text transform="translate(494.00,537.50) scale(0.9707,1)" font-size="9.3" fill="#000">Temperature <tspan font-style="italic">T</tspan> (K)</text>
<text transform="translate(355.90,476.50) rotate(-90) scale(0.9340,1)" font-size="9.6" fill="#000">Ionic self-diffusion coefficient</text>
<text transform="translate(355.90,361.90) rotate(-90) scale(0.9580,1)" font-size="9.6" fill="#000"><tspan font-style="italic">D</tspan>×10<tspan font-size="6.6" dy="-3.5">9</tspan><tspan dy="3.5"> (m<tspan font-size="6.6" dy="-3.5">2</tspan><tspan dy="3.5">·s<tspan font-size="6.6" dy="-3.5">-1</tspan><tspan dy="3.5">)</tspan></tspan></tspan></text>
<text transform="translate(402.80,289.60) scale(1.0000,1)" font-size="8.6" fill="#000">(<tspan font-style="italic" font-size="12.4">d</tspan>)</text>
<text transform="translate(419.70,313.40) scale(0.9445,1)" font-size="8.9" fill="#000">NaCl-MgCl<tspan font-size="5.8" dy="2.0">2</tspan><tspan dy="-2.0"> mixture</tspan></text>
<text transform="translate(419.70,325.60) scale(0.9362,1)" font-size="8.9" fill="#000">NaCl-CaCl<tspan font-size="5.8" dy="2.0">2</tspan><tspan dy="-2.0"> mixture</tspan></text>
<text transform="translate(419.70,337.80) scale(0.9425,1)" font-size="8.9" fill="#000">NaCl-MgCl<tspan font-size="5.8" dy="2.0">2</tspan><tspan dy="-2.0">-KCl mixture</tspan></text>
<text transform="translate(419.70,350.60) scale(0.9476,1)" font-size="8.9" fill="#000">NaCl-MgCl<tspan font-size="5.8" dy="2.0">2</tspan><tspan dy="-2.0">-CaCl<tspan font-size="5.8" dy="2.0">2</tspan><tspan dy="-2.0"> mixture</tspan></tspan></text>
<text transform="translate(419.70,362.80) scale(0.9443,1)" font-size="8.9" fill="#000">NaCl-KCl-NaF mixture</text>
<text transform="translate(419.70,373.90) scale(0.9454,1)" font-size="8.9" fill="#000">NaCl-MgCl<tspan font-size="5.8" dy="2.0">2</tspan><tspan dy="-2.0">-KCl-LaCl<tspan font-size="5.8" dy="2.0">3</tspan><tspan dy="-2.0"> mixture</tspan></tspan></text>
</svg>
</body></html>
